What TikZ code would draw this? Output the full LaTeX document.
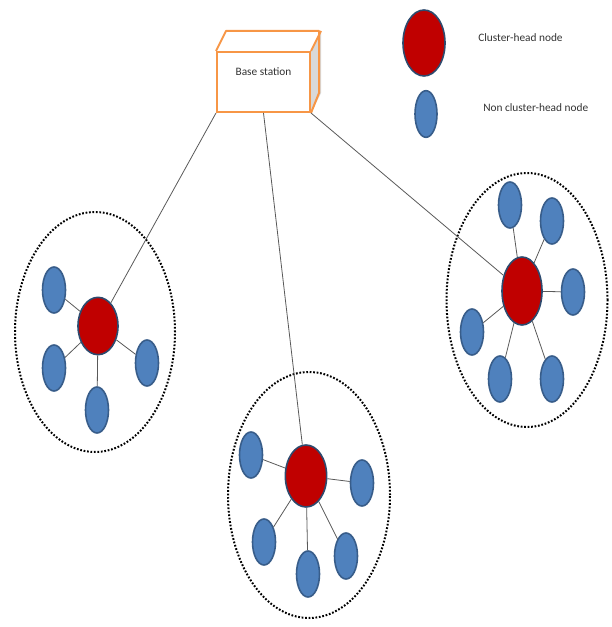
\documentclass[tikz,border=0pt]{standalone}
\usepackage{fontspec}
\setmainfont{Carlito}
\usetikzlibrary{shapes.geometric}
\definecolor{chred}{HTML}{C00000}
\definecolor{nblue}{HTML}{4F81BD}
\definecolor{nborder}{HTML}{385D8A}
\definecolor{bsorange}{HTML}{F79646}
\begin{document}
\begin{tikzpicture}[x=0.75pt,y=-0.75pt]
	\tikzstyle{head} = [ellipse,draw=nborder!80!black,line width=1.2pt,fill=chred,inner sep=0pt]
	\tikzstyle{member} = [ellipse,draw=nborder,line width=1.2pt,fill=nblue,inner sep=0pt,minimum width=17.25pt,minimum height=34.5pt]
	\tikzstyle{cluster} = [ellipse,draw=black,line width=1.5pt,dash pattern=on 1.3pt off 1.3pt,inner sep=0pt]
	\tikzstyle{link} = [draw=black!65,line width=0.6pt]
	\tikzstyle{txt} = [font=\fontsize{8.5}{10}\selectfont,text=black!80,inner sep=0pt]
	\tikzstyle{edge} = [draw=bsorange,line width=1.5pt,line join=round]
	\useasboundingbox (0,0) rectangle (611,627);
	
		% base station
		\node[draw=bsorange,line width=1.5pt,fill=white,minimum width=69.75pt,minimum height=45pt,inner sep=0pt] (bs) at (263.5,82){};
		\fill[black!15] (bs.north east) -- ++(10,-20) -- ++(0,62) -- (bs.south east) -- cycle;
		\draw[edge] (bs.north west) -- ++(10,-20) -- ++(93,0) -- ++(0,62) -- (bs.south east);
		\draw[edge] (bs.north east) -- ++(10,-20);
		\node[txt] (bslabel) at ([yshift=7.5pt]bs.center){Base station};
		
		% legend
		\node[head,minimum width=31.5pt,minimum height=49.5pt] (lhead) at (424,43){};
		\node[member,minimum width=16.5pt,minimum height=35pt] (lmember) at (426,114){};
		\node[txt,anchor=west] (lheadtxt) at (478,38){Cluster-head node};
		\node[txt,anchor=west] (lmembertxt) at (483,108){Non cluster-head node};
		
		% clusters
		\node[cluster,minimum width=120pt,minimum height=180pt] (c1) at (95,332){};
		\node[cluster,minimum width=121.5pt,minimum height=184.5pt] (c2) at (309,495){};
		\node[cluster,minimum width=120.75pt,minimum height=190.5pt] (c3) at (527,300){};
		
		% cluster heads
		\node[head,minimum width=30pt,minimum height=43pt] (ch1) at (98,326){};
		\node[head,minimum width=31pt,minimum height=46.5pt] (ch2) at (306,476){};
		\node[head,minimum width=30pt,minimum height=51pt] (ch3) at (522,291){};
		
		% members
		\node[member] (m1) at (54,290){};
		\node[member] (m2) at (54,368){};
		\node[member] (m3) at (147,363){};
		\node[member] (m4) at (97,410){};
		
		\node[member] (m5) at (251,455){};
		\node[member] (m6) at (362,483){};
		\node[member] (m7) at (264,542){};
		\node[member] (m8) at (308,574){};
		\node[member] (m9) at (346,556){};
		
		\node[member] (m10) at (510,205){};
		\node[member] (m11) at (552,221){};
		\node[member] (m12) at (573,292){};
		\node[member] (m13) at (472,332){};
		\node[member] (m14) at (500,379){};
		\node[member] (m15) at (552,379){};
		
		% links
		\draw[link](bs.south west) -- (ch1);
		\draw[link](bs.south) -- (ch2);
		\draw[link](bs.south east) -- (ch3);
		\foreach \m in {1,...,4} \draw[link](ch1) -- (m\m);
		\foreach \m in {5,...,9} \draw[link](ch2) -- (m\m);
		\foreach \m in {10,...,15} \draw[link](ch3) -- (m\m);
\end{tikzpicture}
\end{document}
